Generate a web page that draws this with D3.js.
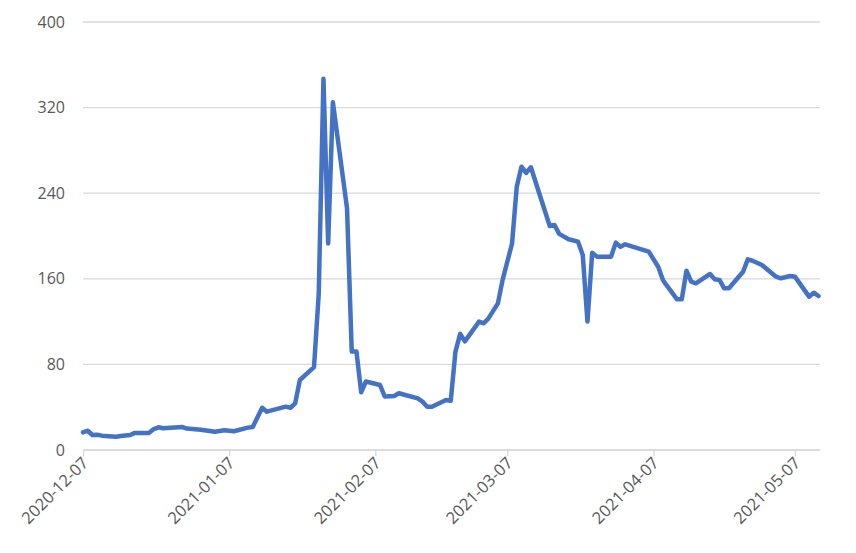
<!DOCTYPE html>
<html>
<head>
<meta charset="utf-8">
<script src="https://cdn.jsdelivr.net/npm/d3@7"></script>
<style>
  body { margin: 0; background: #fff; }
  svg text { font-family: "Open Sans", "Liberation Sans", sans-serif; fill: #595959; }
</style>
</head>
<body>
<div id="chart"></div>
<script>
// data
var dates = [
  "2020-12-07","2020-12-08","2020-12-09","2020-12-10","2020-12-11","2020-12-14","2020-12-15",
  "2020-12-17","2020-12-18","2020-12-21","2020-12-22","2020-12-23","2020-12-24","2020-12-28",
  "2020-12-29","2021-01-01","2021-01-04","2021-01-06","2021-01-08","2021-01-11","2021-01-12",
  "2021-01-14","2021-01-15","2021-01-19","2021-01-20","2021-01-21","2021-01-22","2021-01-25",
  "2021-01-26","2021-01-27","2021-01-28","2021-01-29","2021-02-01","2021-02-02","2021-02-03",
  "2021-02-04","2021-02-05","2021-02-08","2021-02-09","2021-02-11","2021-02-12","2021-02-16",
  "2021-02-17","2021-02-18","2021-02-19","2021-02-22","2021-02-23","2021-02-24","2021-02-25",
  "2021-02-26","2021-03-01","2021-03-02","2021-03-03","2021-03-05","2021-03-06","2021-03-08",
  "2021-03-09","2021-03-10","2021-03-11","2021-03-12","2021-03-14","2021-03-16","2021-03-17",
  "2021-03-18","2021-03-20","2021-03-22","2021-03-23","2021-03-24","2021-03-25","2021-03-26",
  "2021-03-29","2021-03-30","2021-03-31","2021-04-01","2021-04-06","2021-04-08","2021-04-09",
  "2021-04-10","2021-04-12","2021-04-13","2021-04-14","2021-04-15","2021-04-16","2021-04-19",
  "2021-04-20","2021-04-21","2021-04-22","2021-04-23","2021-04-26","2021-04-27","2021-04-28",
  "2021-04-30","2021-05-03","2021-05-04","2021-05-06","2021-05-07","2021-05-10","2021-05-11",
  "2021-05-12"
];
var values = [
  16.5, 18, 14, 14.3, 13.4, 12.4, 13,
  14, 16, 16, 19.6, 21.2, 20.3, 21.5,
  20, 19, 17.1, 18.4, 17.5, 20.9, 21.5,
  39.5, 35.8, 40.5, 39.5, 43.6, 65.4, 77.5,
  146, 347, 193, 325, 226, 92, 92,
  54, 64, 60.7, 50, 50.5, 53, 48.3,
  45.2, 40.5, 40.5, 46.7, 46.1, 92, 108.5,
  101.5, 120, 118.4, 123, 137, 159, 193,
  246, 264.8, 259, 264.2, 236.7, 209.3, 210.3,
  202, 197, 194.7, 182.2, 120, 184.4, 180.7,
  180.7, 193.8, 190, 192.2, 185.4, 171.3, 158.9,
  152.6, 140.8, 140.8, 167.6, 157.3, 155.8, 164.5,
  159.5, 158.9, 151.1, 151.1, 166.6, 178.2, 176.9,
  172.9, 162, 160.5, 162.6, 162, 143.3, 147,
  143.9
];
var yTicks = [0, 80, 160, 240, 320, 400];
var xTicks = ["2020-12-07","2021-01-07","2021-02-07","2021-03-07","2021-04-07","2021-05-07"];

var width = 856, height = 553;
var margin = {top: 22, right: 36, bottom: 103, left: 83};

var parse = d3.timeParse("%Y-%m-%d");
var data = dates.map(function(d, i){ return {date: parse(d), value: values[i]}; });

var svg = d3.select("#chart").append("svg")
    .attr("width", width)
    .attr("height", height);

var x = d3.scaleTime()
    .domain([parse(dates[0]), parse(dates[dates.length - 1])])
    .range([margin.left, width - margin.right - 1.5]);

var y = d3.scaleLinear()
    .domain([0, 400])
    .range([height - margin.bottom, margin.top]);

// gridlines
svg.append("g")
  .selectAll("line")
  .data(yTicks)
  .enter().append("line")
    .attr("x1", margin.left)
    .attr("x2", width - margin.right)
    .attr("y1", function(d){ return y(d); })
    .attr("y2", function(d){ return y(d); })
    .style("stroke", "#d9d9d9")
    .style("stroke-width", 1.3);

// y labels
svg.append("g")
  .selectAll("text")
  .data(yTicks)
  .enter().append("text")
    .attr("x", margin.left - 18)
    .attr("y", function(d){ return y(d); })
    .attr("dy", "0.35em")
    .attr("text-anchor", "end")
    .style("font-size", "16px")
    .text(function(d){ return d; });

// x axis
var xAxis = d3.axisBottom(x)
    .tickValues(xTicks.map(parse))
    .tickFormat(d3.timeFormat("%Y-%m-%d"))
    .tickSize(6)
    .tickSizeOuter(0);

var gx = svg.append("g")
    .attr("transform", "translate(0," + y(0) + ")")
    .call(xAxis);

gx.select(".domain").style("stroke", "#d9d9d9").style("stroke-width", 1.3)
  .attr("d", "M" + margin.left + ",0H" + (width - margin.right));
gx.selectAll(".tick line").style("stroke", "#d9d9d9").style("stroke-width", 1.3);
gx.selectAll(".tick text")
    .attr("text-anchor", "end")
    .attr("dy", 0)
    .attr("y", 0)
    .attr("transform", "translate(6,14) rotate(-45)")
    .style("font-size", "16.5px")
    .style("fill", "#595959")
    .style("font-family", "\"Open Sans\", sans-serif");

// the line
var line = d3.line()
    .x(function(d){ return x(d.date); })
    .y(function(d){ return y(d.value); });

svg.append("path")
    .datum(data)
    .attr("d", line)
    .style("fill", "none")
    .style("stroke", "#4472C4")
    .style("stroke-width", 4.5)
    .style("stroke-linejoin", "round")
    .style("stroke-linecap", "round");
</script>
</body>
</html>
